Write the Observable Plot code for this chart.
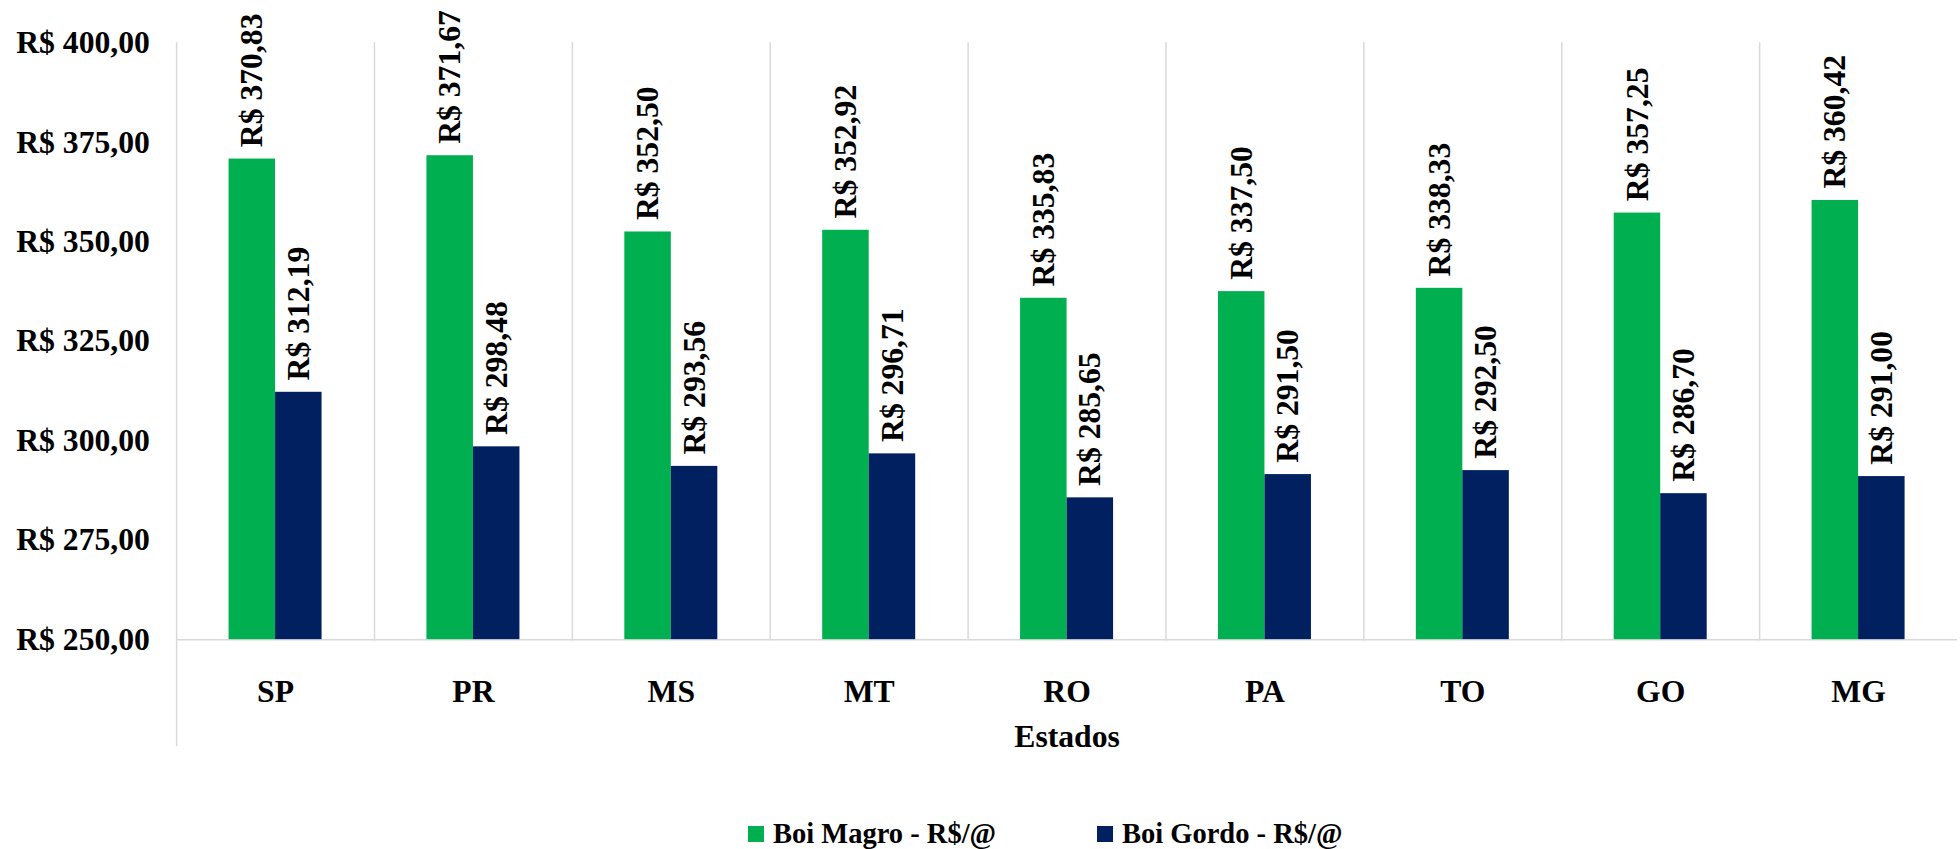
<!DOCTYPE html>
<html>
<head>
<meta charset="utf-8">
<script src="https://cdn.jsdelivr.net/npm/d3@7"></script>
<script src="https://cdn.jsdelivr.net/npm/@observablehq/plot@0.6"></script>
<style>
  html, body { margin: 0; padding: 0; background: #fff; overflow: hidden; width: 1960px; height: 849px; }
  #chart { position: absolute; left: 0; top: 0; }
  .legend { position: absolute; top: 818px; height: 32px; display: flex; align-items: center;
            font-family: "Liberation Serif", serif; font-weight: bold; font-size: 28.5px; color: #000; white-space: nowrap; }
  .legend .sw { width: 16px; height: 16px; margin-right: 9px; }
</style>
</head>
<body>
<div id="chart"></div>
<div id="legend"></div>
<script>
const states = ["SP", "PR", "MS", "MT", "RO", "PA", "TO", "GO", "MG"];
const seriesNames = ["Boi Magro - R$/@", "Boi Gordo - R$/@"];
const boiMagro = [370.83, 371.67, 352.50, 352.92, 335.83, 337.50, 338.33, 357.25, 360.42];
const boiGordo = [312.19, 298.48, 293.56, 296.71, 285.65, 291.50, 292.50, 286.70, 291.00];
const yTicks = [250, 275, 300, 325, 350, 375, 400];
const colors = ["#00B050", "#002060"];
const axisLabel = "Estados";

const fmt = v => "R$ " + v.toFixed(2).replace(".", ",");

const data = states.flatMap((s, i) => [
  {state: s, series: seriesNames[0], value: boiMagro[i]},
  {state: s, series: seriesNames[1], value: boiGordo[i]}
]);

const plot = Plot.plot({
  width: 1981,
  height: 770,
  marginLeft: 174,
  marginRight: 0,
  marginTop: 43,
  marginBottom: 124,
  style: {fontFamily: "Liberation Serif", fontWeight: "bold", fontSize: "32px", color: "#000", background: "#fff", overflow: "visible"},
  y: {domain: [yTicks[0], yTicks[yTicks.length - 1]], ticks: yTicks, tickFormat: fmt, tickSize: 0, tickPadding: 27, label: null},
  fx: {domain: states, padding: 0, label: axisLabel, tickSize: 0, tickPadding: 40, labelAnchor: "center", labelOffset: 109},
  x: {domain: seriesNames, paddingInner: 0, paddingOuter: 1.1, axis: null},
  color: {domain: seriesNames, range: colors},
  marks: [
    Plot.frame({anchor: "left", stroke: "#d9d9d9", strokeWidth: 1.5, strokeOpacity: 1}),
    Plot.ruleY([yTicks[0]], {stroke: "#d9d9d9", strokeWidth: 1.5}),
    Plot.barY(data, {fx: "state", x: "series", y1: yTicks[0], y2: "value", fill: "series"}),
    Plot.text(data, {fx: "state", x: "series", y: "value", text: d => fmt(d.value), rotate: -90,
      textAnchor: "start", dy: -12, fontSize: 32, fontWeight: "bold", fill: "#000"})
  ]
});
document.getElementById("chart").appendChild(plot);

// extend the leftmost frame line below the axis
const frameLines = plot.querySelectorAll('[aria-label="frame"] line');
if (frameLines.length) {
  const l = frameLines[0];
  const y1 = +l.getAttribute("y1"), y2 = +l.getAttribute("y2");
  l.setAttribute("y2", Math.max(y1, y2) + 107);
  if (y1 > y2) l.setAttribute("y1", y2);
}

// legend
const legend = document.getElementById("legend");
const legendLefts = [748, 1097];
seriesNames.forEach((name, i) => {
  const item = document.createElement("div");
  item.className = "legend";
  item.style.left = legendLefts[i] + "px";
  item.innerHTML = `<div class="sw" style="background:${colors[i]}"></div><span>${name}</span>`;
  legend.appendChild(item);
});
</script>
</body>
</html>
